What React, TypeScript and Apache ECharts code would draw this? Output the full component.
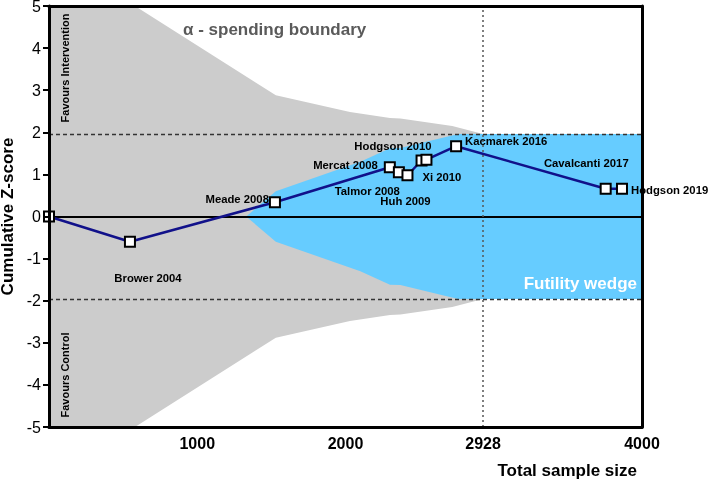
import React, { useEffect, useRef } from "react";
import * as echarts from "echarts";

// Trials (cumulative)
const trialNames = ["", "Brower 2004", "Meade 2008", "Mercat 2008", "Talmor 2008", "Huh 2009", "Hodgson 2010", "Xi 2010", "Kacmarek 2016", "Cavalcanti 2017", "Hodgson 2019"];
const sampleSize = [0, 546, 1524, 2299, 2360, 2418, 2513, 2546, 2746, 3755, 3865];
const zScore = [0, -0.6, 0.34, 1.17, 1.05, 0.98, 1.33, 1.35, 1.67, 0.66, 0.66];

// alpha-spending boundary (symmetric, +/-)
const alphaN = [0, 580, 1530, 2030, 2300, 2370, 2720, 2928];
const alphaZ = [5, 5, 2.88, 2.48, 2.34, 2.33, 2.15, 1.96];

// futility wedge (symmetric, +/-)
const wedgeN = [1330, 1530, 2100, 2300, 2370, 2760, 4000];
const wedgeZ = [0, 0.6, 1.3, 1.62, 1.63, 1.96, 1.96];

const xTickValues = [1000, 2000, 2928, 4000];
const conventionalZ = 1.96;
const requiredSize = 2928;

const FONT = "'Liberation Sans', Arial, sans-serif";

// label placement per trial: [align, dx, dy]
const labelPlacement: [string, number, number][] = [
  ["center", 0, 0],
  ["center", 18, 36],
  ["right", -6, -3],
  ["right", -12, -2],
  ["right", 1, 19],
  ["center", -2, 26],
  ["right", 10, -15],
  ["left", -4, 17],
  ["left", 9, -5],
  ["right", 23, -26],
  ["left", 9, 1],
];

function polygonSeries(ns: number[], zs: number[], fill: string, z: number) {
  return {
    type: "custom",
    data: [[0, 0]],
    clip: true,
    z,
    silent: true,
    renderItem: (_params: any, api: any) => {
      const up = ns.map((n, i) => api.coord([n, zs[i]]));
      const lo = ns.map((n, i) => api.coord([n, -zs[i]])).reverse();
      return {
        type: "polygon",
        shape: { points: up.concat(lo) },
        style: { fill },
      };
    },
  };
}

export default function App() {
  const ref = useRef<HTMLDivElement>(null);
  useEffect(() => {
    const chart = echarts.init(ref.current!, undefined, { renderer: "svg" });
    const lineData = sampleSize.map((n, i) => {
      const [align, dx, dy] = labelPlacement[i];
      return {
        value: [n, zScore[i]],
        name: trialNames[i],
        label: {
          show: trialNames[i] !== "",
          position: "inside",
          align,
          verticalAlign: "middle",
          offset: [dx, dy],
          formatter: "{b}",
          color: "#000",
          fontFamily: FONT,
          fontWeight: "bold",
          fontSize: 11.3,
        },
      };
    });
    const axisLineStyle = { color: "#000", width: 3 };
    chart.setOption({
      animation: false,
      grid: { left: 49, right: 68, top: 6, bottom: 52, containLabel: false, outerBoundsMode: "none" },
      xAxis: [
        {
          type: "value",
          min: 0,
          max: 4000,
          z: 10,
          axisLine: { show: true, onZero: false, lineStyle: axisLineStyle },
          axisTick: { show: false },
          splitLine: { show: false },
          axisLabel: {
            customValues: xTickValues,
            formatter: (v: number) => String(v),
            color: "#000",
            fontFamily: FONT,
            fontWeight: "bold",
            fontSize: 16,
            margin: 8,
          },
          name: "Total sample size",
          nameLocation: "end",
          nameGap: -5,
          nameTextStyle: {
            align: "right",
            verticalAlign: "top",
            padding: [35, 0, 0, 0],
            color: "#000",
            fontFamily: FONT,
            fontWeight: "bold",
            fontSize: 17,
          },
        },
        {
          type: "value",
          position: "top",
          min: 0,
          max: 4000,
          z: 10,
          axisLine: { show: true, onZero: false, lineStyle: axisLineStyle },
          axisTick: { show: false },
          axisLabel: { show: false },
          splitLine: { show: false },
        },
      ],
      yAxis: [
        {
          type: "value",
          min: -5,
          max: 5,
          interval: 1,
          z: 10,
          axisLine: { show: true, onZero: false, lineStyle: axisLineStyle },
          axisTick: { show: true, length: 6, lineStyle: { color: "#000", width: 2 } },
          splitLine: { show: false },
          axisLabel: {
            color: "#000",
            fontFamily: FONT,
            fontSize: 16,
            margin: 8,
          },
          name: "Cumulative Z-score",
          nameLocation: "middle",
          nameGap: 30,
          nameRotate: 90,
          nameTextStyle: {
            color: "#000",
            fontFamily: FONT,
            fontWeight: "bold",
            fontSize: 17,
          },
        },
        {
          type: "value",
          position: "right",
          min: -5,
          max: 5,
          z: 10,
          axisLine: { show: true, onZero: false, lineStyle: axisLineStyle },
          axisTick: { show: false },
          axisLabel: { show: false },
          splitLine: { show: false },
        },
      ],
      series: [
        polygonSeries(alphaN, alphaZ, "#cccccc", 1),
        polygonSeries(wedgeN, wedgeZ, "#66ccff", 2),
        {
          type: "line",
          z: 5,
          clip: false,
          data: lineData,
          symbol: "rect",
          symbolSize: 10,
          lineStyle: { color: "#11118a", width: 2.5 },
          itemStyle: { color: "#fff", borderColor: "#000", borderWidth: 2 },
          markLine: {
            silent: true,
            symbol: "none",
            label: { show: false },
            data: [
              { yAxis: 0, lineStyle: { color: "#000", width: 2, type: "solid" } },
              { yAxis: conventionalZ, lineStyle: { color: "#333", width: 1.3, type: [4, 3] } },
              { yAxis: -conventionalZ, lineStyle: { color: "#333", width: 1.3, type: [4, 3] } },
              { xAxis: requiredSize, lineStyle: { color: "#555", width: 1.5, type: [2, 3] } },
            ],
          },
        },
      ],
      graphic: [
        {
          type: "text",
          x: 183,
          y: 29,
          z: 20,
          style: { text: "α - spending boundary", fill: "#5a5a5a", font: `bold 17px ${FONT}`, align: "left", verticalAlign: "middle" },
        },
        {
          type: "text",
          x: 637,
          y: 283,
          z: 20,
          style: { text: "Futility wedge", fill: "#fff", font: `bold 17px ${FONT}`, align: "right", verticalAlign: "middle" },
        },
        {
          type: "text",
          x: 65,
          y: 68,
          rotation: Math.PI / 2,
          z: 20,
          style: { text: "Favours Intervention", fill: "#000", font: `bold 11px ${FONT}`, align: "center", verticalAlign: "middle" },
        },
        {
          type: "text",
          x: 65,
          y: 375,
          rotation: Math.PI / 2,
          z: 20,
          style: { text: "Favours Control", fill: "#000", font: `bold 11px ${FONT}`, align: "center", verticalAlign: "middle" },
        },
      ],
    });
    return () => chart.dispose();
  }, []);
  return <div ref={ref} style={{ position: "fixed", left: 0, top: 0, width: 710, height: 479 }} />;
}
